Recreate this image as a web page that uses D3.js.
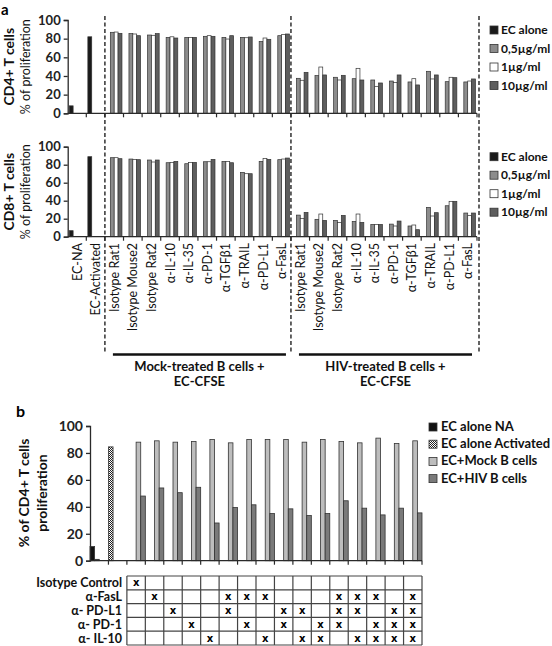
<!DOCTYPE html>
<html><head><meta charset="utf-8">
<script src="https://cdn.jsdelivr.net/npm/d3@7"></script>
<style>
body{margin:0;background:#fff;}
svg{display:block;font-family:Lato,"Open Sans",sans-serif;}
</style></head>
<body><svg id="c" width="552" height="646"></svg>
<script>
// ---------- DATA: panel a ----------
const aLabels = ["EC-NA","EC-Activated",
  "Isotype Rat1","Isotype Mouse2","Isotype Rat2","α-IL-10","α-IL-35","α-PD-1","α-TGFβ1","α-TRAIL","α-PD-L1","α-FasL",
  "Isotype Rat1","Isotype Mouse2","Isotype Rat2","α-IL-10","α-IL-35","α-PD-1","α-TGFβ1","α-TRAIL","α-PD-L1","α-FasL"];
const aSeries = ["EC alone","0,5µg/ml","1µg/ml","10µg/ml"];
const aTicks = [0,20,40,60,80,100];
const aGroups = ["Mock-treated B cells +|EC-CFSE","HIV-treated B cells +|EC-CFSE"];

const cd4EcAlone = [8, 82];
const cd4Low  = [86.8,85.4,83.9,81.4,81.4,82.5,81.4,81.4,77.0,83.2, 37.5,40.4,38.6,37.1,35.7,34.6,33.6,45.0,33.9,33.6];
const cd4Mid  = [87.1,85.0,83.6,82.0,81.4,83.2,79.6,81.0,80.7,84.3, 35.4,49.6,35.7,48.2,28.9,32.9,37.1,36.8,38.6,34.6];
const cd4High = [85.7,83.2,85.4,80.7,81.4,82.5,83.2,81.8,79.3,85.0, 43.9,41.1,40.7,35.7,32.5,41.1,30.4,41.1,38.2,36.8];

const cd8EcAlone = [6.7, 88.9];
const cd8Low  = [87.8,86.3,85.2,82.2,81.1,83.3,83.7,71.5,83.7,85.6, 24.0,19.3,18.1,17.0,13.7,14.0,11.9,32.6,34.4,26.3];
const cd8Mid  = [87.8,85.9,83.0,82.6,82.6,83.3,83.7,70.0,87.0,86.3, 20.4,25.2,15.9,25.2,13.7,11.9,13.0,23.0,39.3,23.7];
const cd8High = [86.7,85.6,85.2,83.7,82.6,85.9,82.2,70.0,85.9,87.4, 27.0,18.1,23.7,15.9,13.7,17.4,7.8,26.7,39.3,26.3];

// ---------- DATA: panel b ----------
const bSeries = ["EC alone NA","EC alone Activated","EC+Mock B cells","EC+HIV B cells"];
const bEcAlone = [10.5, 84.5];      // EC-NA, EC-Activated columns
const bEcExtra = [1, 0];
const bMock = [88,89,88,88.5,90,87.5,90,90,90,88,90,88.5,87.5,91,87,89];
const bHiv  = [48,54,50.5,54.5,28,39.5,41.5,35,38.5,33.5,35,44.5,39,34,39,35.5];
const bRows = ["Isotype Control","α-FasL","α- PD-L1","α- PD-1","α- IL-10"];
// rows ticked (index into bRows) for each of the 16 combination columns
const bCombos = [[0],[1],[2],[3],[4],[1,2],[1,3],[1,4],[2,3],[2,4],[3,4],[1,2,3],[1,2,4],[1,3,4],[2,3,4],[1,2,3,4]];
const bTicks = [0,20,40,60,80,100];

// ---------- DRAW ----------
const svg = d3.select("#c");
const defs = svg.append("defs");
const pat = defs.append("pattern").attr("id","chk").attr("patternUnits","userSpaceOnUse").attr("width",2).attr("height",2);
pat.append("rect").attr("width",2).attr("height",2).attr("fill","#fff");
pat.append("rect").attr("width",1).attr("height",1).attr("fill","#222");
pat.append("rect").attr("x",1).attr("y",1).attr("width",1).attr("height",1).attr("fill","#222");

const AX = "#2a2a2a";
const aFill = {"EC alone":"#1a1a1a","0,5µg/ml":"#8c8c8c","1µg/ml":"#ffffff","10µg/ml":"#5e5e5e"};

const xa = d3.scaleBand().domain(d3.range(aLabels.length)).range([67.7,477]).paddingInner(0).paddingOuter(0);
const xa1 = d3.scaleBand().domain(aSeries).range([0, xa.bandwidth()]).paddingOuter(0.4).paddingInner(0);

svg.append("text").attr("x",1).attr("y",15).attr("font-size",15).attr("font-weight","bold").text("a");

function panelA(yTop, yBot, ecVals, low, mid, high, title){
  const y = d3.scaleLinear().domain([0,100]).range([yBot,yTop]);
  const g = svg.append("g");
  const bars = [];
  ecVals.forEach((v,i)=>bars.push({c:i,s:"EC alone",v}));
  low.forEach((v,i)=>bars.push({c:i+2,s:"0,5µg/ml",v}));
  mid.forEach((v,i)=>bars.push({c:i+2,s:"1µg/ml",v}));
  high.forEach((v,i)=>bars.push({c:i+2,s:"10µg/ml",v}));
  g.selectAll("rect.bar").data(bars).join("rect").attr("class","bar")
    .attr("x",d=>xa(d.c)+xa1(d.s)).attr("width",xa1.bandwidth())
    .attr("y",d=>y(d.v)).attr("height",d=>y(0)-y(d.v))
    .attr("fill",d=>aFill[d.s]).attr("stroke","#333").attr("stroke-width",0.7);
  // y axis
  const ya = g.append("g").attr("transform",`translate(${xa.range()[0]},0)`)
    .call(d3.axisLeft(y).tickValues(aTicks).tickSize(4).tickPadding(3));
  ya.select(".domain").attr("stroke",AX).attr("stroke-width",1.3);
  ya.selectAll(".tick line").attr("stroke",AX).attr("stroke-width",1.3);
  ya.selectAll("text").attr("font-size",13).attr("font-weight","bold").attr("fill","#222").attr("font-family","Lato");
  // x axis
  g.append("line").attr("x1",xa.range()[0]).attr("x2",xa.range()[1]).attr("y1",y(0)).attr("y2",y(0)).attr("stroke",AX).attr("stroke-width",1.3);
  g.selectAll("line.xt").data(d3.range(1,aLabels.length+1)).join("line").attr("class","xt")
    .attr("x1",i=>xa.range()[0]+i*xa.step()).attr("x2",i=>xa.range()[0]+i*xa.step())
    .attr("y1",y(0)).attr("y2",y(0)+4).attr("stroke",AX).attr("stroke-width",1.2);
  // titles
  const cy = (yTop+yBot)/2;
  g.append("text").attr("transform",`translate(14,${cy}) rotate(-90)`).attr("text-anchor","middle")
    .attr("font-size",14).attr("font-weight","bold").attr("fill","#111").text(title);
  g.append("text").attr("transform",`translate(30,${cy}) rotate(-90)`).attr("text-anchor","middle")
    .attr("font-size",12.5).attr("fill","#111").text("% of proliferation");
  // legend
  const lg = g.append("g");
  aSeries.forEach((s,i)=>{
    const ly = yTop + 14 + i*18.5;
    lg.append("rect").attr("x",490).attr("y",ly-8).attr("width",8).attr("height",8)
      .attr("fill",aFill[s]).attr("stroke","#333").attr("stroke-width",0.8);
    lg.append("text").attr("x",501).attr("y",ly).attr("font-size",12).attr("font-weight","bold").attr("fill","#111").text(s);
  });
}
panelA(20, 113.3, cd4EcAlone, cd4Low, cd4Mid, cd4High, "CD4+ T cells");
panelA(146.7, 236.7, cd8EcAlone, cd8Low, cd8Mid, cd8High, "CD8+ T cells");

// x labels panel a
svg.append("g").selectAll("text").data(aLabels).join("text")
  .attr("transform",(d,i)=>`translate(${xa(i)+xa.bandwidth()/2+4.5},243) rotate(-90)`)
  .attr("text-anchor","end").attr("font-size",12.5).attr("fill","#111").text(d=>d);

// dashed separators
[2,12].map(i=>xa.range()[0]+i*xa.step()).concat([xa.range()[1]+2]).forEach(x=>{
  svg.append("line").attr("x1",x).attr("x2",x).attr("y1",16).attr("y2",353)
    .attr("stroke","#222").attr("stroke-width",1.4).attr("stroke-dasharray","4,2.5");
});
// group underlines and labels
aGroups.forEach((gname,k)=>{
  const i0 = 2 + k*10, i1 = 11 + k*10;
  const x0 = xa(i0)+8, x1 = xa(i1)+xa.bandwidth()-5;
  svg.append("line").attr("x1",x0).attr("x2",x1).attr("y1",354.5).attr("y2",354.5).attr("stroke","#111").attr("stroke-width",2.5);
  const parts = gname.split("|");
  parts.forEach((p,j)=>{
    svg.append("text").attr("x",(x0+x1)/2).attr("y",371+j*15).attr("text-anchor","middle")
      .attr("font-size",13).attr("font-weight","bold").attr("fill","#111").text(p);
  });
});

// ---------- Panel b ----------
svg.append("text").attr("x",16).attr("y",417).attr("font-size",16).attr("font-weight","bold").text("b");
const nB = 2 + bMock.length;
const xb = d3.scaleBand().domain(d3.range(nB)).range([90,422]).padding(0);
const slots = ["ec","ecExtra","mock","hiv"];
const xb1 = d3.scaleBand().domain(slots).range([0,xb.bandwidth()]).padding(0);
const yb = d3.scaleLinear().domain([0,100]).range([560.7,426]);
const bFill = {"ec":["#111","url(#chk)"],"ecExtra":"#222","mock":"#bdbdbd","hiv":"#7a7a7a"};
const bBars = [];
bEcAlone.forEach((v,i)=>bBars.push({c:i,s:"ec",v,f:bFill.ec[i]}));
bEcExtra.forEach((v,i)=>{ if(v>0) bBars.push({c:i,s:"ecExtra",v,f:bFill.ecExtra}); });
bMock.forEach((v,i)=>bBars.push({c:i+2,s:"mock",v,f:bFill.mock}));
bHiv.forEach((v,i)=>bBars.push({c:i+2,s:"hiv",v,f:bFill.hiv}));
const gb = svg.append("g");
gb.selectAll("rect").data(bBars).join("rect")
  .attr("x",d=>xb(d.c)+xb1(d.s)).attr("width",xb1.bandwidth())
  .attr("y",d=>yb(d.v)).attr("height",d=>yb(0)-yb(d.v))
  .attr("fill",d=>d.f).attr("stroke","#333").attr("stroke-width",0.8);
const yba = gb.append("g").attr("transform","translate(90,0)")
  .call(d3.axisLeft(yb).tickValues(bTicks).tickSize(4).tickPadding(3));
yba.select(".domain").attr("stroke",AX).attr("stroke-width",1.3);
yba.selectAll(".tick line").attr("stroke",AX).attr("stroke-width",1.3);
yba.selectAll("text").attr("font-size",14).attr("font-weight","bold").attr("fill","#222").attr("font-family","Lato");
gb.append("line").attr("x1",90).attr("x2",422).attr("y1",yb(0)).attr("y2",yb(0)).attr("stroke",AX).attr("stroke-width",1.3);
gb.selectAll("line.xt").data(d3.range(1,nB+1)).join("line").attr("class","xt")
  .attr("x1",i=>90+i*xb.step()).attr("x2",i=>90+i*xb.step())
  .attr("y1",yb(0)).attr("y2",yb(0)+4).attr("stroke",AX).attr("stroke-width",1.2);
const bcy = 493;
gb.append("text").attr("transform",`translate(29,${bcy}) rotate(-90)`).attr("text-anchor","middle")
  .attr("font-size",14).attr("font-weight","bold").attr("fill","#111").text("% of CD4+ T cells");
gb.append("text").attr("transform",`translate(47,${bcy}) rotate(-90)`).attr("text-anchor","middle")
  .attr("font-size",14).attr("font-weight","bold").attr("fill","#111").text("proliferation");
// legend b
const bLegFill = ["#111","url(#chk)","#bdbdbd","#7a7a7a"];
bSeries.forEach((s,i)=>{
  const ly = 431 + i*17.2;
  gb.append("rect").attr("x",429).attr("y",ly-8).attr("width",8).attr("height",8)
    .attr("fill",bLegFill[i]).attr("stroke","#333").attr("stroke-width",0.8);
  gb.append("text").attr("x",441).attr("y",ly).attr("font-size",13).attr("font-weight","bold").attr("fill","#111").text(s);
});
// table
const tTop = 576, rowH = 13.8;
const tX0 = xb(2), tX1 = xb.range()[1];
const tg = svg.append("g");
bRows.forEach((r,j)=>{
  tg.append("text").attr("x",122).attr("y",tTop+j*rowH+rowH/2+4.5).attr("text-anchor","end")
    .attr("font-size",12.5).attr("font-weight","bold").attr("fill","#111").text(r);
});
d3.range(bRows.length+1).forEach(j=>{
  tg.append("line").attr("x1",tX0).attr("x2",tX1).attr("y1",tTop+j*rowH).attr("y2",tTop+j*rowH)
    .attr("stroke","#444").attr("stroke-width",1.2);
});
d3.range(bMock.length+1).forEach(i=>{
  const x = tX0 + i*xb.step();
  tg.append("line").attr("x1",x).attr("x2",x).attr("y1",tTop).attr("y2",tTop+bRows.length*rowH)
    .attr("stroke","#444").attr("stroke-width",1.2);
});
bCombos.forEach((rows,i)=>{
  rows.forEach(j=>{
    tg.append("text").attr("x",xb(i+2)+xb.bandwidth()/2).attr("y",tTop+j*rowH+rowH/2+3.5)
      .attr("text-anchor","middle").attr("font-size",10).attr("font-weight","bold")
      .attr("font-family","'DejaVu Sans'").attr("fill","#000").text("x");
  });
});
</script></body></html>
